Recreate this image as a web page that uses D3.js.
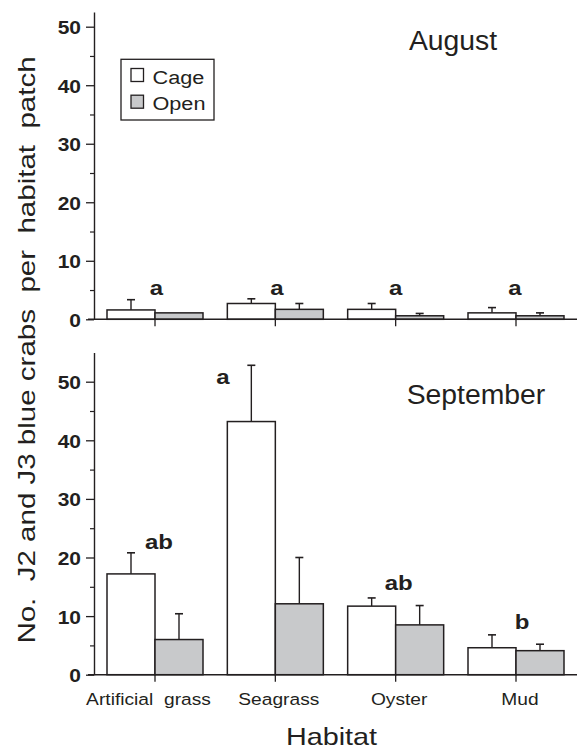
<!DOCTYPE html>
<html>
<head>
<meta charset="utf-8">
<script src="https://cdn.jsdelivr.net/npm/d3@7"></script>
<style>
  html, body { margin: 0; padding: 0; background: #fff; }
  svg { display: block; }
  text { font-family: "Liberation Sans", Arial, Helvetica, sans-serif; fill: #231f20; white-space: pre; }
</style>
</head>
<body>
<svg id="chart" width="579" height="751"></svg>
<script>
// ---------------- data ----------------
const categories = ["Artificial  grass", "Seagrass", "Oyster", "Mud"];
const treatments = ["Cage", "Open"];
const months = ["August", "September"];

const augCage   = [1.6, 2.7, 1.7, 1.1];
const augCageSE = [1.75, 0.8, 1.0, 0.9];
const augOpen   = [1.1, 1.7, 0.6, 0.6];
const augOpenSE = [0, 1.0, 0.4, 0.5];

const sepCage   = [17.2, 43.2, 11.7, 4.6];
const sepCageSE = [3.6, 9.6, 1.4, 2.2];
const sepOpen   = [6.0, 12.1, 8.5, 4.1];
const sepOpenSE = [4.4, 7.9, 3.3, 1.1];

const augLetters = ["a", "a", "a", "a"];
const sepLetters = ["ab", "a", "ab", "b"];

const yTickValues = [0, 10, 20, 30, 40, 50];
const yMinorValues = [5, 15, 25, 35, 45];

// ---------------- layout / style ----------------
const INK = "#231f20";
const GREY = "#c8c9cb";
const FONT = '"Liberation Sans", Arial, Helvetica, sans-serif';
const svg = d3.select("#chart");

const axisX = 94, axisRight = 577;
const x = d3.scalePoint().domain(categories).range([155, 516]);
const xSub = d3.scaleBand().domain(treatments).range([-48, 48]);

function stext(sel, px, py, str, o) {
  const t = sel.append("text")
    .attr("transform", `translate(${px},${py})` + (o.rotate ? ` rotate(${o.rotate})` : "") + ` scale(${o.sx || 1},1)`)
    .attr("text-anchor", o.anchor || "middle")
    .style("font-size", o.size + "px")
    .style("font-weight", o.weight || "normal")
    .text(str);
  return t;
}

const panels = [
  { month: months[0], cage: augCage, cageSE: augCageSE, open: augOpen, openSE: augOpenSE,
    letters: augLetters, y0: 319.3, y50: 26.7, top: 52.5,
    letterVal: [4.15, 4.15, 4.15, 4.15], letterDx: [1.5, 1.5, 0, -1],
    titleX: 453, titleY: 49.5 },
  { month: months[1], cage: sepCage, cageSE: sepCageSE, open: sepOpen, openSE: sepOpenSE,
    letters: sepLetters, y0: 674.7, y50: 381.7, top: 55,
    letterVal: [21.4, 49.6, 14.4, 7.8], letterDx: [4, -52.5, 3, 6],
    titleX: 476, titleY: 404 }
];

panels.forEach(p => {
  const k = (p.y0 - p.y50) / 50;
  const y = d3.scaleLinear().domain([0, p.top]).range([p.y0, p.y0 - p.top * k]);
  const g = svg.append("g");

  // bars
  const rows = categories.map((c, i) => ([
    { cat: c, t: "Cage", v: p.cage[i], se: p.cageSE[i] },
    { cat: c, t: "Open", v: p.open[i], se: p.openSE[i] }
  ])).flat();

  // error bars (drawn first so bar outline sits on top)
  rows.filter(d => d.se > 0).forEach(d => {
    const cx = x(d.cat) + xSub(d.t) + xSub.bandwidth() / 2;
    g.append("line").attr("x1", cx).attr("x2", cx)
      .attr("y1", y(d.v)).attr("y2", y(d.v + d.se))
      .attr("stroke", INK).attr("stroke-width", 1.4);
    g.append("line").attr("x1", cx - 4).attr("x2", cx + 4)
      .attr("y1", y(d.v + d.se)).attr("y2", y(d.v + d.se))
      .attr("stroke", INK).attr("stroke-width", 1.6);
  });

  g.selectAll("rect.bar").data(rows).join("rect")
    .attr("class", "bar")
    .attr("x", d => x(d.cat) + xSub(d.t))
    .attr("width", xSub.bandwidth())
    .attr("y", d => y(d.v))
    .attr("height", d => y(0) - y(d.v))
    .attr("fill", d => d.t === "Cage" ? "#ffffff" : GREY)
    .attr("stroke", INK).attr("stroke-width", 1.5);

  // baseline
  g.append("line").attr("x1", axisX - 6).attr("x2", axisRight)
    .attr("y1", y(0)).attr("y2", y(0)).attr("stroke", INK).attr("stroke-width", 1.5);

  // category ticks below baseline
  categories.forEach(c => {
    g.append("line").attr("x1", x(c)).attr("x2", x(c))
      .attr("y1", y(0)).attr("y2", y(0) + 7)
      .attr("stroke", INK).attr("stroke-width", 1.3);
  });

  // y axis
  const ax = g.append("g").attr("transform", `translate(${axisX},0)`)
    .call(d3.axisLeft(y).tickValues(yTickValues).tickSize(8).tickSizeOuter(0).tickFormat(d3.format("d")));
  ax.select(".domain").attr("stroke", INK).attr("stroke-width", 1.4);
  ax.selectAll(".tick line").attr("stroke", INK).attr("stroke-width", 1.3);
  ax.selectAll(".tick text")
    .attr("x", -13 / 1.2).attr("dy", "7px")
    .attr("transform", "scale(1.2,1)")
    .style("font-family", FONT).style("font-size", "17.5px").style("font-weight", "bold")
    .attr("fill", INK);
  const minor = g.append("g").attr("transform", `translate(${axisX},0)`)
    .call(d3.axisLeft(y).tickValues(yMinorValues).tickSize(4).tickFormat(""));
  minor.select(".domain").remove();
  minor.selectAll(".tick line").attr("stroke", INK).attr("stroke-width", 1.2);

  // significance letters
  categories.forEach((c, i) => {
    stext(g, x(c) + p.letterDx[i], y(p.letterVal[i]), p.letters[i],
      { size: 20, weight: "bold", sx: 1.2 });
  });

  // month title
  stext(g, p.titleX, p.titleY, p.month, { size: 27, sx: 1.05 });
});

// category labels
categories.forEach(c => {
  const off = c.startsWith("Artificial") ? -6.5 : (c === "Mud" ? 4 : 3.5);
  stext(svg, x(c) + off, 705, c, { size: 17, sx: 1.13 });
});

// axis titles
stext(svg, 331.5, 745, "Habitat", { size: 24, sx: 1.2 });
stext(svg, 35, 350, "No.  J2 and J3 blue crabs  per  habitat  patch",
  { size: 24, sx: 1.23, rotate: -90 });

// legend
const lg = svg.append("g");
lg.append("rect").attr("x", 121).attr("y", 59.3).attr("width", 93).attr("height", 60.7)
  .attr("fill", "#fff").attr("stroke", INK).attr("stroke-width", 1.3);
treatments.forEach((t, i) => {
  const yy = 68.5 + i * 26.7;
  lg.append("rect").attr("x", 131).attr("y", yy).attr("width", 12.5).attr("height", 13)
    .attr("fill", t === "Cage" ? "#fff" : GREY).attr("stroke", INK).attr("stroke-width", 1.3);
  stext(lg, 152.5, yy + 15, t, { size: 19, sx: 1.14, anchor: "start" });
});
</script>
</body>
</html>
